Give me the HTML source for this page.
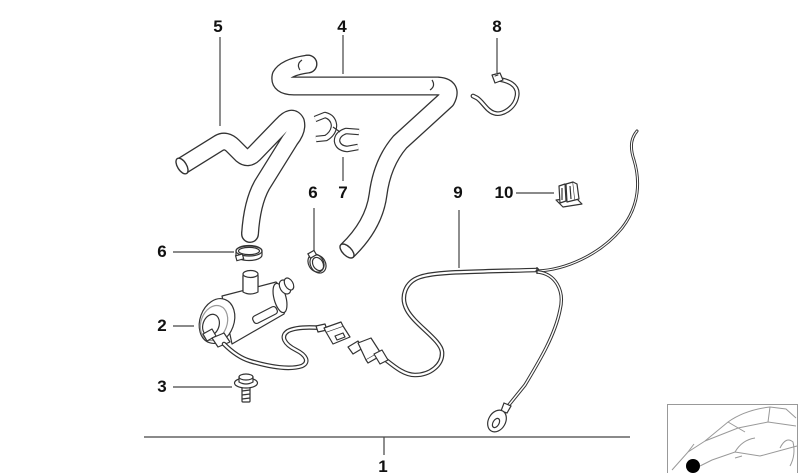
<!DOCTYPE html>
<html><head><meta charset="utf-8"><style>
html,body{margin:0;padding:0;background:#fff;}
svg{display:block}
text{font-family:"Liberation Sans",Arial,sans-serif;font-weight:bold;font-size:17px;fill:#111;text-anchor:middle}
</style></head><body>
<svg width="799" height="473" viewBox="0 0 799 473" xmlns="http://www.w3.org/2000/svg">
<rect width="799" height="473" fill="#fff"/>

<!-- leader lines -->
<g stroke="#444" stroke-width="1.2" fill="none">
<line x1="220" y1="37" x2="220" y2="126"/>
<line x1="343" y1="35" x2="343" y2="74"/>
<line x1="497" y1="38" x2="497" y2="73"/>
<line x1="343" y1="157" x2="343" y2="181"/>
<line x1="314" y1="208" x2="314" y2="254"/>
<line x1="173" y1="252" x2="234" y2="252"/>
<line x1="173" y1="326" x2="194" y2="326"/>
<line x1="173" y1="387" x2="232" y2="387"/>
<line x1="459" y1="210" x2="459" y2="268"/>
<line x1="516" y1="193" x2="554" y2="193"/>
<line x1="144" y1="437" x2="630" y2="437"/>
<line x1="384" y1="437" x2="384" y2="455"/>
</g>

<!-- labels -->
<text x="218" y="32">5</text>
<text x="342" y="32">4</text>
<text x="497" y="32">8</text>
<text x="313" y="198">6</text>
<text x="343" y="198">7</text>
<text x="162" y="257">6</text>
<text x="162" y="331">2</text>
<text x="162" y="392">3</text>
<text x="458" y="198">9</text>
<text x="504" y="198">10</text>
<text x="383" y="472">1</text>

<!-- hoses -->
<g fill="none" stroke-linejoin="round" stroke-linecap="butt">
  <path d="M 182,166 L 219,143 Q 226,139 233,146 L 242,155 Q 248,160 254,154 L 282,125 Q 292,114 296,122 Q 298,130 290,140 L 262,185 Q 252,203 250,234" stroke="#333" stroke-width="18"/>
  <path d="M 308,64 Q 286,67 281,76 Q 279,86 294,86 L 438,86 Q 453,87 446,100 L 400,142 Q 382,163 378,195 Q 374,225 347,251" stroke="#333" stroke-width="19"/>
  <circle cx="250" cy="234" r="8.3" fill="#fff" stroke="#333" stroke-width="1.4"/>
  <circle cx="308" cy="64" r="8.8" fill="#fff" stroke="#333" stroke-width="1.4"/>
  <path d="M 182,166 L 219,143 Q 226,139 233,146 L 242,155 Q 248,160 254,154 L 282,125 Q 292,114 296,122 Q 298,130 290,140 L 262,185 Q 252,203 250,234" stroke="#fff" stroke-width="15.4"/>
  <path d="M 308,64 Q 286,67 281,76 Q 279,86 294,86 L 438,86 Q 453,87 446,100 L 400,142 Q 382,163 378,195 Q 374,225 347,251" stroke="#fff" stroke-width="16.4"/>
  <path d="M 302,60 Q 296,64 300,70" stroke="#333" stroke-width="1.2"/>
  <path d="M 430,90 Q 436,86 432,80" stroke="#333" stroke-width="1.2"/>
  <ellipse cx="182" cy="166" rx="4.5" ry="8.8" transform="rotate(-32 182 166)" fill="#fff" stroke="#333" stroke-width="1.4"/>
  <ellipse cx="347" cy="251" rx="4.5" ry="8.8" transform="rotate(-45 347 251)" fill="#fff" stroke="#333" stroke-width="1.4"/>
</g>

<!-- clamp 7 -->
<g fill="none" stroke-linejoin="round" stroke-linecap="butt">
  <path d="M 315,119 L 325,115 Q 333,117 334,125 Q 334,133 326,138 L 316,139" stroke="#333" stroke-width="6.5"/>
  <path d="M 359,132 L 346,131 Q 337,134 337,141 Q 338,148 347,149 L 358,147" stroke="#333" stroke-width="6.5"/>
  <path d="M 315,119 L 325,115 Q 333,117 334,125 Q 334,133 326,138 L 316,139" stroke="#fff" stroke-width="4.2"/>
  <path d="M 359,132 L 346,131 Q 337,134 337,141 Q 338,148 347,149 L 358,147" stroke="#fff" stroke-width="4.2"/>
  <path d="M 333,127 L 340,132" stroke="#333" stroke-width="1.2"/>
</g>

<!-- clamp 8 -->
<g fill="none" stroke-linejoin="round" stroke-linecap="round">
  <path d="M 496,79 C 508,80 519,85 517,96 C 515,108 502,116 494,113 C 487,111 483,102 477,98 L 473,96" stroke="#333" stroke-width="4.8"/>
  <path d="M 496,79 C 508,80 519,85 517,96 C 515,108 502,116 494,113 C 487,111 483,102 477,98 L 473,96" stroke="#fff" stroke-width="2.4"/>
  <path d="M 492,75 L 500,73 L 503,80 L 495,83 Z" fill="#fff" stroke="#333" stroke-width="1.2"/>
  <path d="M 495,76 L 498,75" stroke="#333" stroke-width="1"/>
</g>

<!-- clamp 6 left -->
<g fill="#fff" stroke="#333" stroke-width="1.2">
  <path d="M 236,251 L 236,255 A 13 5.5 0 0 0 262,255 L 262,251 A 13 5.5 0 0 0 236,251 Z"/>
  <ellipse cx="249" cy="251" rx="13" ry="5" fill="none"/>
  <ellipse cx="249" cy="251" rx="10.5" ry="3.6" fill="none"/>
  <rect x="236" y="255" width="7" height="5" transform="rotate(-15 239 257)"/>
</g>

<!-- clamp 6 middle -->
<g fill="none" stroke="#333" stroke-width="1.2">
  <ellipse cx="316" cy="263" rx="7.5" ry="9.5" transform="rotate(-30 316 263)"/>
  <ellipse cx="318" cy="264" rx="7.5" ry="9.5" transform="rotate(-30 318 264)"/>
  <ellipse cx="318" cy="264" rx="5" ry="7" transform="rotate(-30 318 264)"/>
  <rect x="309" y="252" width="7" height="5" fill="#fff" transform="rotate(-30 312 255)"/>
</g>

<!-- pump 2 -->
<g fill="#fff" stroke="#333" stroke-width="1.2" stroke-linejoin="round">
  <rect x="243" y="273" width="15" height="20" rx="2"/>
  <path d="M 222,296 L 276,282 Q 291,296 284,314 L 232,344 Z"/>
  <ellipse cx="280" cy="298" rx="6" ry="15" transform="rotate(-15 280 298)"/>
  <ellipse cx="285" cy="287" rx="5" ry="7.5" transform="rotate(-30 285 287)"/>
  <ellipse cx="289" cy="284" rx="4" ry="6.5" transform="rotate(-30 289 284)"/>
  <path d="M 243,276 L 243,292 Q 250,296 258,292 L 258,276" fill="#fff"/>
  <ellipse cx="250.5" cy="274" rx="7.5" ry="3.5"/>
  <ellipse cx="217" cy="321" rx="17" ry="23" transform="rotate(20 217 321)"/>
  <ellipse cx="214" cy="323" rx="13" ry="18" transform="rotate(20 214 323)" stroke="#999"/>
  <ellipse cx="211" cy="325" rx="8" ry="11" transform="rotate(20 211 325)"/>
  <rect x="252" y="311" width="26" height="8" rx="3" transform="rotate(-27 265 315)"/>
  <path d="M 203,334 L 212,329 L 216,336 L 207,341 Z"/>
  <path d="M 212,338 L 224,333 L 230,342 L 218,347 Z"/>
</g>

<!-- wires -->
<g fill="none" stroke-linejoin="round" stroke-linecap="round">
  <path d="M 224,344 C 232,352 240,358 250,361 C 270,367 290,370 302,366 C 310,362 306,355 296,350 C 284,344 280,336 288,331 C 296,327 310,327 322,328" stroke="#333" stroke-width="4.6"/>
  <path d="M 224,344 C 232,352 240,358 250,361 C 270,367 290,370 302,366 C 310,362 306,355 296,350 C 284,344 280,336 288,331 C 296,327 310,327 322,328" stroke="#fff" stroke-width="2.2"/>
  <path d="M 386,360 C 396,368 405,375 415,375 C 430,375 443,365 442,352 C 441,340 415,325 407,310 C 400,297 405,282 420,277 C 435,272 460,272 537,270" stroke="#333" stroke-width="4.6"/>
  <path d="M 386,360 C 396,368 405,375 415,375 C 430,375 443,365 442,352 C 441,340 415,325 407,310 C 400,297 405,282 420,277 C 435,272 460,272 537,270" stroke="#fff" stroke-width="2.2"/>
  <path d="M 537,271 C 565,270 600,255 622,228 C 640,205 640,180 634,160 C 629,145 632,137 637,131" stroke="#333" stroke-width="3"/>
  <path d="M 537,271 C 565,270 600,255 622,228 C 640,205 640,180 634,160 C 629,145 632,137 637,131" stroke="#fff" stroke-width="1.1"/>
  <path d="M 538,272 C 555,274 565,290 560,310 C 555,335 540,360 525,385 L 508,406" stroke="#333" stroke-width="3.4"/>
  <path d="M 538,272 C 555,274 565,290 560,310 C 555,335 540,360 525,385 L 508,406" stroke="#fff" stroke-width="1.4"/>
</g>
<path d="M 537,267 L 537,274" stroke="#333" stroke-width="1.2"/>

<!-- connectors -->
<g fill="#fff" stroke="#333" stroke-width="1.2" stroke-linejoin="round">
  <path d="M 316,326 L 325,324 L 327,330 L 318,332 Z"/>
  <path d="M 326,332 L 343,326 L 350,337 L 333,344 Z"/>
  <path d="M 326,332 L 324,328 L 341,322 L 343,326"/>
  <path d="M 335,336 L 343,333 L 345,337 L 337,340 Z"/>
  <path d="M 348,347 L 358,341 L 363,348 L 353,354 Z"/>
  <path d="M 358,343 L 371,338 L 380,352 L 366,360 Z"/>
  <path d="M 366,360 L 368,363 L 382,355 L 380,352"/>
  <path d="M 374,354 L 382,350 L 388,360 L 380,364 Z"/>
</g>

<!-- eyelet -->
<g fill="#fff" stroke="#333" stroke-width="1.2">
  <path d="M 504,403 L 511,406 L 507,413 L 501,411 Z"/>
  <ellipse cx="497" cy="421" rx="8.5" ry="11.5" transform="rotate(30 497 421)"/>
  <ellipse cx="496" cy="423" rx="3" ry="5" transform="rotate(30 496 423)"/>
</g>

<!-- screw 3 -->
<g fill="#fff" stroke="#333" stroke-width="1.2">
  <rect x="242" y="386" width="8" height="16" rx="1"/>
  <line x1="242" y1="391" x2="250" y2="390"/>
  <line x1="242" y1="395" x2="250" y2="394"/>
  <line x1="242" y1="399" x2="250" y2="398"/>
  <ellipse cx="246" cy="383" rx="11.5" ry="5"/>
  <path d="M 239,382 L 239,377 Q 246,372 253,377 L 253,382 Q 246,386 239,382 Z"/>
  <ellipse cx="246" cy="377" rx="7" ry="3"/>
</g>

<!-- part 10 -->
<g fill="#fff" stroke="#333" stroke-width="1.2" stroke-linejoin="round">
  <path d="M 556,200 L 576,198 L 582,204 L 563,207 Z"/>
  <path d="M 559,186 L 565,184 L 566,201 L 560,203 Z"/>
  <path d="M 566,184 L 573,182 L 575,200 L 567,202 Z"/>
  <path d="M 573,182 L 577,184 L 579,199 L 575,200"/>
  <line x1="562" y1="188" x2="562" y2="200"/>
  <line x1="570" y1="186" x2="571" y2="199"/>
</g>

<!-- car thumbnail -->
<g fill="none" stroke="#999" stroke-width="1">
  <rect x="667.5" y="404.5" width="130" height="80"/>
  <path d="M 672,470 L 688,452 L 705,441 L 728,422 Q 745,410 770,407 L 786,409 L 796,418"/>
  <path d="M 705,441 L 738,428 L 768,422 L 796,426"/>
  <path d="M 728,422 L 745,432 M 770,407 L 768,422"/>
  <path d="M 700,466 L 712,460 L 735,452 L 760,456 L 797,446"/>
  <path d="M 735,452 Q 742,440 755,438"/>
  <path d="M 780,448 Q 786,436 793,442 Q 796,455 790,466"/>
  <path d="M 688,452 L 694,444"/>
  <path d="M 735,458 L 742,456"/>
</g>
<circle cx="693" cy="466" r="7" fill="#000"/>
</svg>
</body></html>
